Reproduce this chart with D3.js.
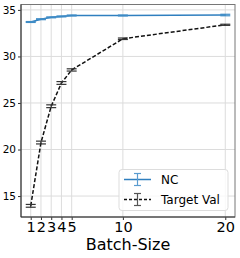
<!DOCTYPE html>
<html>
<head>
<meta charset="utf-8">
<script src="https://cdn.jsdelivr.net/npm/d3@7"></script>
<style>
  body { margin: 0; background: #fff; }
  svg { display: block; font-family: "DejaVu Sans", sans-serif; }
</style>
</head>
<body>
<div id="chart"></div>
<script>
const batchSizes = [1, 2, 3, 4, 5, 10, 20]
const ncValues = [33.7, 34.0, 34.2, 34.3, 34.4, 34.4, 34.45]
const ncErr = [0.05, 0.05, 0.05, 0.05, 0.05, 0.05, 0.08]
const targetValues = [13.95, 20.75, 24.65, 27.15, 28.55, 31.9, 33.4]
const targetErr = [0.15, 0.15, 0.15, 0.15, 0.12, 0.08, 0.06]
const xTicks = [1, 2, 3, 4, 5, 10, 20]
const yTicks = [15, 20, 25, 30, 35]

const width = 240,
      height = 258,
      plotLeft = 21,
      plotRight = 235,
      plotTop = 4.5,
      plotBottom = 217

const xScale = d3.scaleLinear().domain([0.05, 20.95]).range([plotLeft, plotRight]),
      yScale = d3.scaleLinear().domain([12.75, 35.58]).range([plotBottom, plotTop])

const svg = d3.select('#chart')
              .append('svg')
              .attr('width', width)
              .attr('height', height)

// grid
svg.append('g')
   .selectAll('line')
   .data(xTicks)
   .enter()
   .append('line')
   .attr('x1', d => xScale(d)).attr('x2', d => xScale(d))
   .attr('y1', plotTop).attr('y2', plotBottom)
   .attr('stroke', '#dcdcdc').attr('stroke-width', 1)

svg.append('g')
   .selectAll('line')
   .data(yTicks)
   .enter()
   .append('line')
   .attr('x1', plotLeft).attr('x2', plotRight)
   .attr('y1', d => yScale(d)).attr('y2', d => yScale(d))
   .attr('stroke', '#dcdcdc').attr('stroke-width', 1)

// axes
const xAxis = d3.axisBottom(xScale).tickValues(xTicks).tickSize(3).tickPadding(2),
      yAxis = d3.axisLeft(yScale).tickValues(yTicks).tickSize(3).tickPadding(2)

const gx = svg.append('g')
              .attr('transform', 'translate(0,' + plotBottom + ')')
              .call(xAxis)
gx.select('.domain').remove()
gx.selectAll('text').attr('font-size', 14.5).attr('fill', '#000').attr('font-family', 'DejaVu Sans')
gx.selectAll('line').attr('stroke', '#333')

const gy = svg.append('g')
              .attr('transform', 'translate(' + plotLeft + ',0)')
              .call(yAxis)
gy.select('.domain').remove()
gy.selectAll('text').attr('font-size', 10.5).attr('fill', '#000').attr('font-family', 'DejaVu Sans')
gy.selectAll('line').attr('stroke', '#333')

// frame
svg.append('rect')
   .attr('x', plotLeft).attr('y', plotTop)
   .attr('width', plotRight - plotLeft).attr('height', plotBottom - plotTop)
   .attr('fill', 'none').attr('stroke', '#777').attr('stroke-width', 1)

svg.append('path')
   .attr('d', 'M' + plotLeft + ',' + plotTop + 'V' + plotBottom + 'H' + plotRight)
   .attr('fill', 'none').attr('stroke', '#333').attr('stroke-width', 1)

svg.append('text')
   .attr('x', (plotLeft + plotRight) / 2)
   .attr('y', 250)
   .attr('text-anchor', 'middle')
   .attr('font-size', 16)
   .text('Batch-Size')

const line = d3.line().x(d => xScale(d[0])).y(d => yScale(d[1]))

function drawSeries(values, errs, color, capColor, dash) {
  const pts = batchSizes.map((b, i) => [b, values[i]])
  svg.append('path')
     .datum(pts)
     .attr('d', line)
     .attr('fill', 'none')
     .attr('stroke', color)
     .attr('stroke-width', 1.5)
     .attr('stroke-dasharray', dash)

  const eb = svg.append('g')
  batchSizes.forEach((b, i) => {
    const x = xScale(b),
          y1 = yScale(values[i] - errs[i]),
          y2 = yScale(values[i] + errs[i])
    eb.append('line').attr('x1', x).attr('x2', x).attr('y1', y1).attr('y2', y2)
      .attr('stroke', capColor).attr('stroke-width', 1.2)
    ;[y1, y2].forEach(y => {
      eb.append('line').attr('x1', x - 5).attr('x2', x + 5).attr('y1', y).attr('y2', y)
        .attr('stroke', capColor).attr('stroke-width', 1.2)
    })
  })
}

drawSeries(ncValues, ncErr, '#2f7fbf', '#3f8cc6', null)
drawSeries(targetValues, targetErr, '#111', '#333', '4,2')

// legend
const legend = svg.append('g')
legend.append('rect')
      .attr('x', 119).attr('y', 169.5)
      .attr('width', 109).attr('height', 41)
      .attr('rx', 3)
      .attr('fill', 'rgba(255,255,255,0.8)')
      .attr('stroke', '#ddd')

const legendItems = [
  { label: 'NC', color: '#2f7fbf', cap: '#5a9ccf', dash: null, y: 179.5 },
  { label: 'Target Val', color: '#111', cap: '#555', dash: '3,2', y: 199.5 }
]
legendItems.forEach(it => {
  legend.append('line')
        .attr('x1', 124).attr('x2', 151).attr('y1', it.y).attr('y2', it.y)
        .attr('stroke', it.color).attr('stroke-width', 1.5)
        .attr('stroke-dasharray', it.dash)
  legend.append('line')
        .attr('x1', 137.5).attr('x2', 137.5).attr('y1', it.y - 6).attr('y2', it.y + 6)
        .attr('stroke', it.cap).attr('stroke-width', 1.2)
  ;[it.y - 6, it.y + 6].forEach(y => {
    legend.append('line')
          .attr('x1', 134).attr('x2', 141).attr('y1', y).attr('y2', y)
          .attr('stroke', it.cap).attr('stroke-width', 1.2)
  })
  legend.append('text')
        .attr('x', 161).attr('y', it.y + 4.3)
        .attr('font-size', 12)
        .text(it.label)
})
</script>
</body>
</html>
